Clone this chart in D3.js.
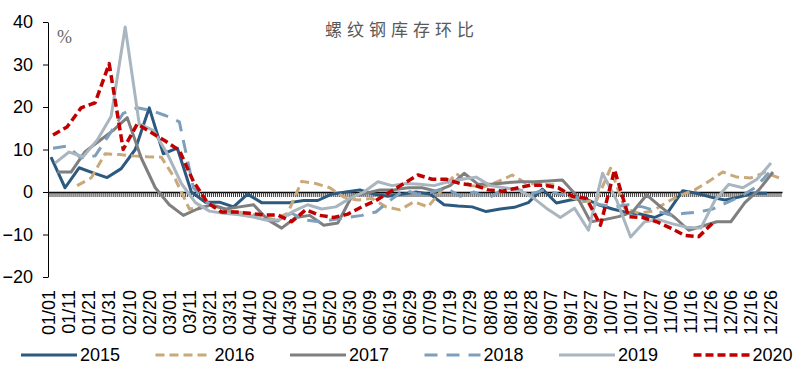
<!DOCTYPE html>
<html>
<head>
<meta charset="utf-8">
<script src="https://cdn.jsdelivr.net/npm/d3@7"></script>
<style>
  body { margin: 0; background: #fff; }
</style>
</head>
<body>
<div id="chart"></div>
<script>
// leap-year calendar, one category per day
const days = d3.timeDay
  .range(new Date(2020, 0, 1), new Date(2021, 0, 1))
  .map(d3.timeFormat("%m/%d"));

const tickLabels = [
  "01/01", "01/11", "01/21", "01/31", "02/10", "02/20", "03/01", "03/11",
  "03/21", "03/31", "04/10", "04/20", "04/30", "05/10", "05/20", "05/30",
  "06/09", "06/19", "06/29", "07/09", "07/19", "07/29", "08/08", "08/18",
  "08/28", "09/07", "09/17", "09/27", "10/07", "10/17", "10/27", "11/06",
  "11/16", "11/26", "12/06", "12/16", "12/26",
];
const yTicks = [-20, -10, 0, 10, 20, 30, 40];

const years = ["2015", "2016", "2017", "2018", "2019", "2020"];
// first weekly observation of each year
const startDates = ["01/02", "01/15", "01/05", "01/03", "01/04", "01/03"];

// weekly % change of rebar inventory
const values2015 = [8.2, 1, 5.7, 4.5, 3.4, 5.5, 10, 19.8, 9, 10.3, 0, -2.4, -2.4, -3.5, -0.5, -2.5, -2.5, -2.5, -2, -2, -0.5, 0, 0.5, -0.5, -1, -0.5, 0, -0.5, -3, -3.3, -3.5, -4.6, -4, -3.6, -2.5, 0.7, -2.6, -1.9, -1.5, -3, -4, -4.8, -5.2, -6, -4.5, 0.3, -0.3, -1.2, -1.9, -1.2, -0.3, -0.3];
const values2016 = [1.5, 3.3, 9, 8.8, 8.5, 8.3, 8.2, 3, -4, -3.5, -3.5, -4.5, -5, -5.5, -6.5, -5, 2.5, 2, 1, -1.2, -1.9, -1.5, -3.5, -4.2, -2.3, -3.5, 0.5, 4.4, 1.5, 1.2, 2.5, 4, 2, 1.8, 1.7, -1, -2.3, -2, 5.6, -3.8, -5, -4.5, -2.4, -0.7, 0.5, 2.5, 4.7, 3.5, 3.3, 4.6, 3.3];
const values2017 = [4.7, 4.7, 9.5, 12, 14.5, 17.5, 8, 1, -3, -5.5, -4, -3, -4, -3.5, -3, -6.5, -8.5, -6, -5.5, -7.8, -7.3, -1, -0.3, 0.5, 0.5, 1, 1, 0.2, 1.5, 4.4, 1.8, 1.8, 2.2, 2.4, 2.4, 2.6, 2.8, -0.8, -7, -6.5, -5.8, -4.7, -0.7, -3.5, -6, -9, -8, -7, -7, -2.5, 0.5, 4.7];
const values2018 = [10.3, 10.8, 8, 8.5, 13.5, 18.5, 19.8, 19.2, 18, 16.5, 1, -2.5, -4.5, -5, -5.5, -6.5, -6.8, -5, -6.6, -7, -6.5, -6, -5.5, -4.7, -2, 0.5, -0.5, 0, 1, -1, 0, -1.5, 0.5, 0.8, -0.5, 0.5, -0.5, -1, -2, -3, -3.5, -3, -3.5, -4.5, -5.4, -5, -4.7, -4, -2.5, -1, 1, 4.5];
const values2019 = [6.8, 9.4, 8.3, 12.2, 17.8, 38.8, 16, 14.5, 9, 2, -2.5, -4.5, -5, -5.3, -5.8, -6.6, -6.5, -4.5, -3, -4, -3.5, -1.5, 0, 2.4, 1.5, 2, 1.8, 1.5, 2.4, 3, 3.5, 1.5, 1, 0.5, -1.2, -3.8, -6, -3.8, -9, 4.4, -1.9, -10.6, -7, -6.5, -7.5, -8.3, -8.5, -2, 1.8, 1, 3, 6.8];
const values2020 = [13.4, 15.3, 19.8, 21, 30.2, 10, 16, 14, 12, 9.8, 2.5, -2.5, -4.7, -4.7, -5, -5.4, -5.4, -7, -4.2, -5.5, -6, -5.2, -3.5, -2, 0, 2, 4, 3, 3, 2, 1.6, 0.5, 0.2, 0.9, 1.6, 1.6, 1, -1, -1.5, -7.8, 5.2, -5.8, -6, -7, -8.5, -10.2, -10.5, -7.3];
const allValues = [values2015, values2016, values2017, values2018, values2019, values2020];

const colors = ["#2c5a7f", "#c9a87a", "#7f7f7f", "#7d9fbb", "#a9b6bf", "#c00000"];
const dashes = [null, "9,5", null, "13,9", null, "8,4"];
const widths = [3, 3, 3, 3, 3, 3.5];

const width = 804;
const height = 372;
const marginLeft = 48;
const plotRight = 782;
const plotTop = 22;
const plotBottom = 277;

const svg = d3
  .select("#chart")
  .append("svg")
  .attr("width", width)
  .attr("height", height)
  .attr("viewBox", [0, 0, width, height])
  .style("background", "#fff");

const x = d3.scaleBand().domain(days).range([marginLeft, plotRight]);
const cx = (d) => x(d) + x.bandwidth() / 2;

const y = d3.scaleLinear().domain([-20, 40]).range([plotBottom, plotTop]);

// Title
svg
  .append("text")
  .attr("x", 402)
  .attr("y", 36)
  .attr("text-anchor", "middle")
  .attr("fill", "#595959")
  .attr("font-size", "17px")
  .attr("letter-spacing", "5px")
  .attr("font-family", "'Noto Sans CJK SC', sans-serif")
  .text("螺纹钢库存环比");

svg
  .append("text")
  .attr("x", 57)
  .attr("y", 43)
  .attr("fill", "#666")
  .attr("font-size", "18px")
  .attr("font-family", "'Liberation Serif', serif")
  .text("%");

// Y axis
svg
  .append("g")
  .attr("transform", `translate(${marginLeft},0)`)
  .call(
    d3.axisLeft(y).tickValues(yTicks).tickSize(5).tickSizeOuter(0).tickPadding(10),
  )
  .call((g) => g.select(".domain").attr("stroke", "#000"))
  .call((g) => g.selectAll(".tick line").attr("stroke", "#000"))
  .call((g) =>
    g
      .selectAll(".tick text")
      .attr("fill", "#000")
      .attr("font-size", "18px")
      .attr("font-family", "'Liberation Sans', Arial, sans-serif"),
  );

// Zero line with a tick for every day
svg
  .append("g")
  .attr("transform", `translate(0,${y(0)})`)
  .call(d3.axisBottom(x).tickValues(days).tickSize(5).tickSizeOuter(0).tickFormat(""))
  .call((g) => g.select(".domain").attr("stroke", "#000").attr("stroke-width", 1.5))
  .call((g) => g.selectAll(".tick line").attr("stroke", "#222").attr("stroke-width", 0.9));

// Rotated date labels below the plot
svg
  .append("g")
  .selectAll("text")
  .data(tickLabels)
  .join("text")
  .attr("transform", (d) => `translate(${cx(d)},290) rotate(-90)`)
  .attr("dy", "0.35em")
  .attr("text-anchor", "end")
  .attr("fill", "#000")
  .attr("font-size", "18px")
  .attr("font-family", "'Liberation Sans', Arial, sans-serif")
  .text((d) => d);

// Series lines
const line = d3
  .line()
  .x((d) => cx(d.day))
  .y((d) => y(d.value));

years.forEach((year, i) => {
  const start = days.indexOf(startDates[i]);
  const points = allValues[i].map((v, k) => ({ day: days[start + 7 * k], value: v }));
  svg
    .append("path")
    .datum(points)
    .attr("fill", "none")
    .attr("stroke", colors[i])
    .attr("stroke-width", widths[i])
    .attr("stroke-dasharray", dashes[i])
    .attr("stroke-linejoin", "round")
    .attr("d", line);
});

// Legend
const legend = svg
  .append("g")
  .selectAll("g")
  .data(years)
  .join("g")
  .attr("transform", (d, i) => `translate(${21 + i * 134.5},355)`);

legend
  .append("line")
  .attr("x1", 0)
  .attr("x2", 56)
  .attr("stroke", (d, i) => colors[i])
  .attr("stroke-width", (d, i) => widths[i])
  .attr("stroke-dasharray", (d, i) => dashes[i]);

legend
  .append("text")
  .attr("x", 59)
  .attr("dy", "0.35em")
  .attr("fill", "#000")
  .attr("font-size", "18px")
  .attr("font-family", "'Liberation Sans', Arial, sans-serif")
  .text((d) => d);
</script>
</body>
</html>
